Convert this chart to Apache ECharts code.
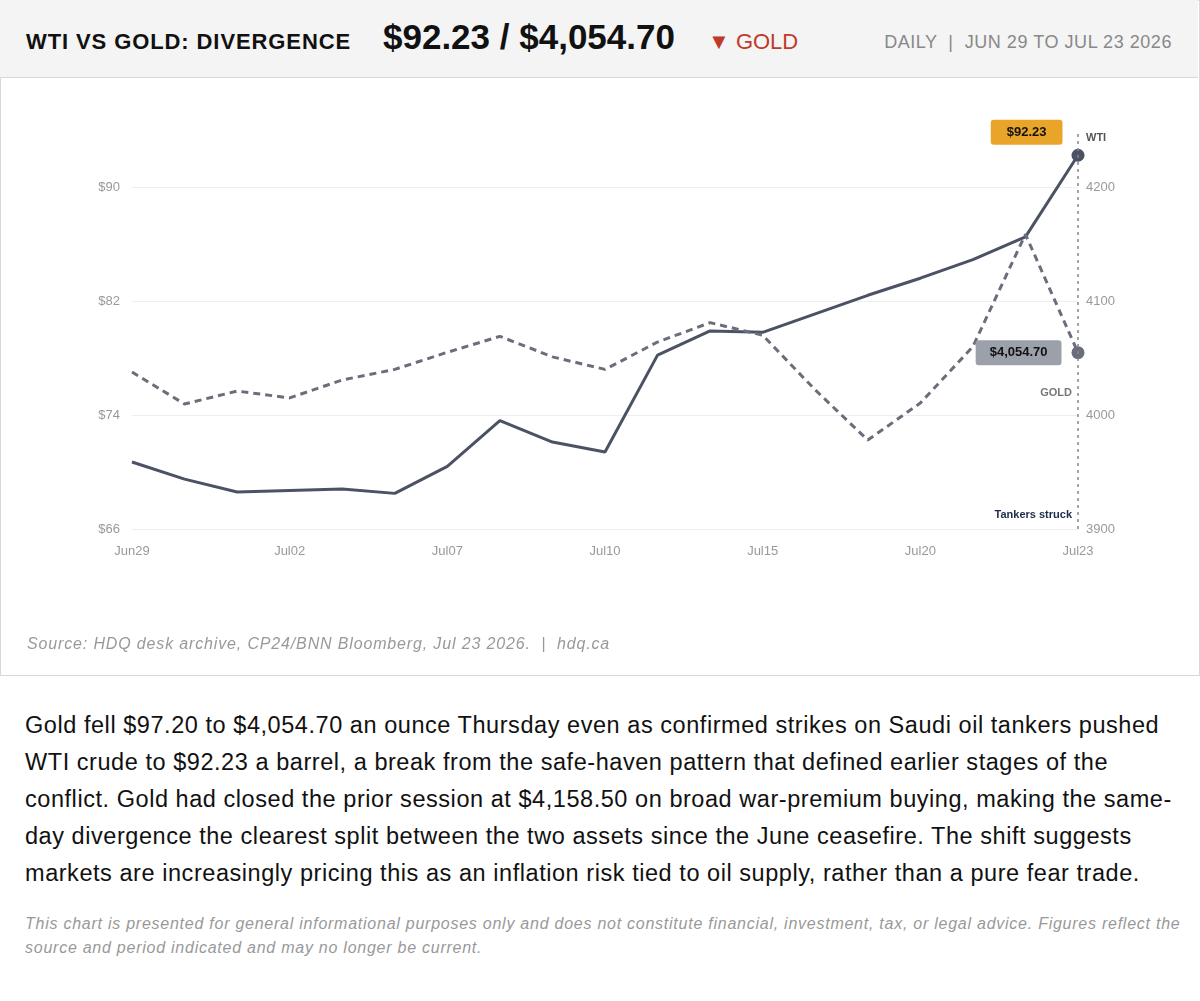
<!DOCTYPE html>
<html><head><meta charset="utf-8">
<script src="https://cdn.jsdelivr.net/npm/echarts@6/dist/echarts.min.js"></script>
<style>
body{margin:0;width:1200px;height:1001px;background:#fff;font-family:"Liberation Sans",Arial,sans-serif;position:relative;overflow:hidden}
#box{position:absolute;left:0;top:0;width:1198px;height:674px;border:1px solid #d8d8d8}
#hdr{position:absolute;left:0;top:0;width:1198px;height:77px;background:#f4f4f4;border-bottom:1px solid #d8d8d8}
#t1{position:absolute;left:26px;top:29px;font-size:22px;font-weight:bold;color:#111;letter-spacing:0.9px}
#t2{position:absolute;left:383px;top:17px;font-size:35px;font-weight:bold;color:#111}
#t3{position:absolute;left:708px;top:29px;font-size:22px;color:#c0392b}
#t4{position:absolute;right:26px;top:32px;font-size:18px;color:#888;letter-spacing:0.55px}
#chart{position:absolute;left:0;top:78px;width:1200px;height:597px}
#src{position:absolute;left:27px;top:635px;font-size:16px;font-style:italic;color:#999;letter-spacing:0.85px}
#p{position:absolute;left:25px;top:707px;width:1160px;font-size:23.5px;line-height:37px;color:#111;letter-spacing:0.55px}
#d{position:absolute;left:25px;top:912px;width:1160px;font-size:16px;line-height:24px;font-style:italic;color:#999;letter-spacing:0.75px}
</style></head><body>
<div id="box"></div>
<div id="hdr"><div id="t1">WTI VS GOLD: DIVERGENCE</div><div id="t2">$92.23 / $4,054.70</div><div id="t3">▼ GOLD</div><div id="t4">DAILY &nbsp;|&nbsp; JUN 29 TO JUL 23 2026</div></div>
<div id="chart"></div>
<div id="src">Source: HDQ desk archive, CP24/BNN Bloomberg, Jul 23 2026. &nbsp;|&nbsp; hdq.ca</div>
<div id="p">Gold fell $97.20 to $4,054.70 an ounce Thursday even as confirmed strikes on Saudi oil tankers pushed WTI crude to $92.23 a barrel, a break from the safe-haven pattern that defined earlier stages of the conflict. Gold had closed the prior session at $4,158.50 on broad war-premium buying, making the same-day divergence the clearest split between the two assets since the June ceasefire. The shift suggests markets are increasingly pricing this as an inflation risk tied to oil supply, rather than a pure fear trade.</div>
<div id="d">This chart is presented for general informational purposes only and does not constitute financial, investment, tax, or legal advice. Figures reflect the source and period indicated and may no longer be current.</div>
<script>
const categories=['Jun29','Jun30','Jul01','Jul02','Jul03','Jul06','Jul07','Jul08','Jul09','Jul10','Jul13','Jul14','Jul15','Jul16','Jul17','Jul20','Jul21','Jul22','Jul23'];
const wti=[70.7,69.5,68.6,68.7,68.8,68.5,70.4,73.6,72.1,71.4,78.2,79.9,79.8,81.1,82.4,83.6,84.9,86.5,92.23];
const gold=[4037.7,4009.6,4021,4015,4030.7,4040,4055,4069,4051,4040,4064,4081,4070,4022,3978,4010.5,4060,4158.5,4054.7];
const last=categories.length-1;
const wtiData=wti.map((v,i)=>i===last?{value:v,symbol:'circle',symbolSize:13,label:{show:true,formatter:'$92.23',position:'left',offset:[-4,-23],backgroundColor:'#e9a52a',color:'#111',fontWeight:'bold',fontSize:13,padding:[6,16],borderRadius:3}}:v);
const goldData=gold.map((v,i)=>i===last?{value:v,symbol:'circle',symbolSize:13,label:{show:true,formatter:'$4,054.70',position:'left',offset:[-5,0],backgroundColor:'#9ca0aa',color:'#111',fontWeight:'bold',fontSize:13,padding:[6,14],borderRadius:3}}:v);
const c=echarts.init(document.getElementById('chart'));
const lab={color:'#999',fontSize:13,fontFamily:'Liberation Sans'};
c.setOption({
 animation:false,
 grid:{left:132,right:122,top:52,bottom:146},
 xAxis:{type:'category',data:categories,boundaryGap:false,axisLine:{show:false},axisTick:{show:false},
  axisLabel:Object.assign({interval:2,margin:16},lab),splitLine:{show:false}},
 yAxis:[
  {type:'value',min:66,max:94,interval:8,position:'left',axisLabel:Object.assign({formatter:'${value}',showMaxLabel:false,margin:12},lab),
   splitLine:{showMaxLine:false,lineStyle:{color:'#eee'}},axisLine:{show:false},axisTick:{show:false}},
  {type:'value',min:3900,max:4250,interval:100,position:'right',axisLabel:Object.assign({formatter:v=>String(v),showMaxLabel:false,margin:8},lab),
   splitLine:{show:false},axisLine:{show:false},axisTick:{show:false}}
 ],
 series:[
  {name:'WTI',type:'line',data:wtiData,yAxisIndex:0,symbol:'none',showSymbol:true,lineStyle:{color:'#4a5263',width:3},itemStyle:{color:'#4a5263'},
   markLine:{symbol:'none',silent:true,label:{show:false},lineStyle:{color:'#888',type:[3,4],width:1.5},data:[{xAxis:'Jul23'}]}},
  {name:'GOLD',type:'line',data:goldData,yAxisIndex:1,symbol:'none',showSymbol:true,lineStyle:{color:'#6b6e7a',width:3,type:[7,5]},itemStyle:{color:'#6b6e7a'}}
 ],
 graphic:[
  {type:'text',left:1086,top:54,style:{text:'WTI',fill:'#555',font:'bold 11px Liberation Sans'}},
  {type:'text',right:128,top:309,style:{text:'GOLD',fill:'#777',font:'bold 11px Liberation Sans'}},
  {type:'text',right:128,top:431,style:{text:'Tankers struck',fill:'#1d2a4a',font:'bold 11px Liberation Sans'}}
 ]
});
</script></body></html>
